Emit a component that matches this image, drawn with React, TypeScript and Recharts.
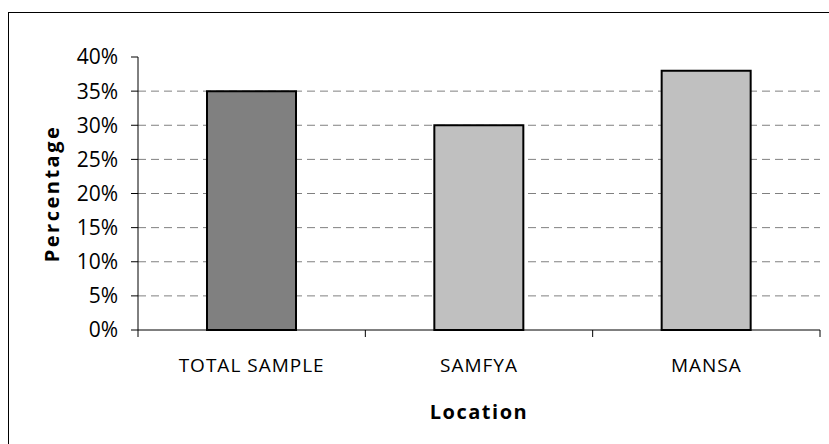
import React from 'react';
import { BarChart, Bar, XAxis, YAxis, CartesianGrid, Cell, Label } from 'recharts';

const locations = ['TOTAL SAMPLE', 'SAMFYA', 'MANSA'];
const percentages = [0.35, 0.30, 0.38];
const barColors = ['#808080', '#C0C0C0', '#C0C0C0'];
const yTicks = [0, 0.05, 0.1, 0.15, 0.2, 0.25, 0.3, 0.35, 0.4];
const gridValues = [0.05, 0.1, 0.15, 0.2, 0.25, 0.3, 0.35];

const WIDTH = 829;
const HEIGHT = 444;
const MARGIN = { top: 57, right: 9, left: 78, bottom: 74 };
const Y_AXIS_WIDTH = 60;
const PLOT_WIDTH = WIDTH - MARGIN.left - Y_AXIS_WIDTH - MARGIN.right;
const BAND = PLOT_WIDTH / locations.length;
const FONT = '"Open Sans", "Noto Sans", sans-serif';

const data = locations.map((name, i) => ({ name, value: percentages[i] }));

// category labels sit in the middle of each band, tick marks on the band edges
const LocationTick = (props: any) => {
  const { x, y, payload, index } = props;
  const left = x - BAND / 2;
  const right = x + BAND / 2;
  return (
    <g>
      <line x1={left} y1={y} x2={left} y2={y + 7} stroke="#000" strokeWidth={1} />
      {index === locations.length - 1 && (
        <line x1={right} y1={y} x2={right} y2={y + 7} stroke="#000" strokeWidth={1} />
      )}
      <text
        x={x}
        y={y + 42}
        textAnchor="middle"
        fontFamily={FONT}
        fontSize={19}
        letterSpacing={1}
        fill="#000"
      >
        {payload.value}
      </text>
    </g>
  );
};

export default function App() {
  return (
    <div
      style={{
        position: 'fixed',
        left: 0,
        top: 0,
        width: WIDTH,
        height: HEIGHT,
        overflow: 'hidden',
        background: '#fff',
      }}
    >
      <div
        style={{
          position: 'absolute',
          left: 8,
          top: 12,
          width: 900,
          height: 500,
          border: '1px solid #000',
          boxSizing: 'border-box',
        }}
      />
      <div style={{ position: 'absolute', left: 0, top: 0 }}>
        <BarChart width={WIDTH} height={HEIGHT} data={data} margin={MARGIN}>
          <CartesianGrid
            vertical={false}
            horizontalValues={gridValues}
            stroke="#808080"
            strokeDasharray="8 5"
          />
          <XAxis
            dataKey="name"
            height={40}
            tickLine={false}
            tickSize={0}
            tickMargin={0}
            axisLine={{ stroke: '#000', strokeWidth: 1 }}
            tick={<LocationTick />}
            interval={0}
          >
            <Label
              content={(p: any) => {
                const vb = p.viewBox;
                return (
                  <text
                    x={vb.x + vb.width / 2}
                    y={vb.y + 89}
                    textAnchor="middle"
                    fontFamily={FONT}
                    fontWeight={700}
                    fontSize={20}
                    letterSpacing={1.5}
                    fill="#000"
                  >
                    Location
                  </text>
                );
              }}
            />
          </XAxis>
          <YAxis
            width={Y_AXIS_WIDTH}
            domain={[0, 0.4]}
            ticks={yTicks}
            interval={0}
            tickSize={7}
            tickMargin={13}
            tickLine={{ stroke: '#000', strokeWidth: 1 }}
            axisLine={{ stroke: '#000', strokeWidth: 1 }}
            tick={{ fontFamily: FONT, fontSize: 21, fill: '#000' }}
            tickFormatter={(v: number) => `${Math.round(v * 100)}%`}
          >
            <Label
              content={(p: any) => {
                const vb = p.viewBox;
                const cx = vb.x - 27;
                const cy = vb.y + vb.height / 2;
                return (
                  <text
                    x={cx}
                    y={cy}
                    transform={`rotate(-90 ${cx} ${cy})`}
                    textAnchor="middle"
                    dominantBaseline="central"
                    fontFamily={FONT}
                    fontWeight={700}
                    fontSize={20}
                    letterSpacing={2.5}
                    fill="#000"
                  >
                    Percentage
                  </text>
                );
              }}
            />
          </YAxis>
          <Bar dataKey="value" barSize={89} stroke="#000" strokeWidth={2} isAnimationActive={false}>
            {data.map((d, i) => (
              <Cell key={d.name} fill={barColors[i]} />
            ))}
          </Bar>
        </BarChart>
      </div>
    </div>
  );
}
